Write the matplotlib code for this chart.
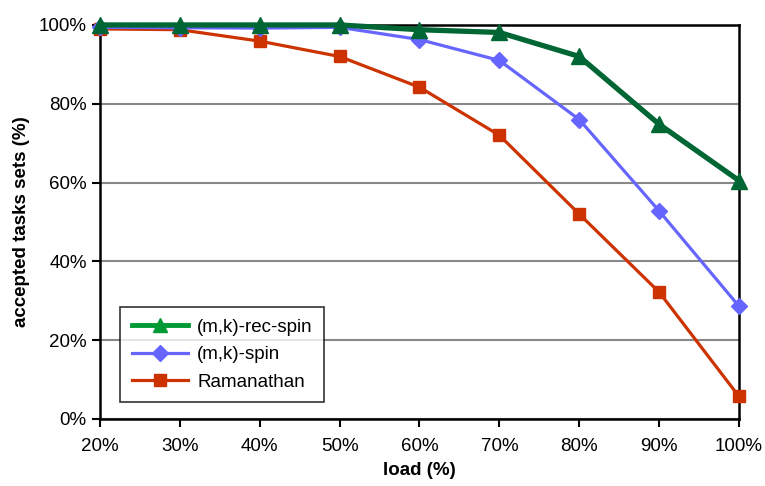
import matplotlib

matplotlib.use("Agg")
import matplotlib.pyplot as plt
from matplotlib.lines import Line2D
from matplotlib.ticker import PercentFormatter

load = [20, 30, 40, 50, 60, 70, 80, 90, 100]
rec_spin = [100, 100, 100, 100, 98.8, 98.1, 92.0, 74.8, 60.5]
spin = [99.4, 99.3, 99.2, 99.4, 96.3, 91.0, 76.0, 52.8, 28.6]
ramanathan = [99.0, 98.8, 95.9, 92.0, 84.2, 72.0, 52.0, 32.2, 5.7]

plt.rcParams["font.family"] = ["Liberation Sans", "DejaVu Sans"]

fig = plt.figure(figsize=(7.65, 4.86), dpi=100)
ax = fig.add_axes([0.1307, 0.138, 0.8353, 0.8106])

ax.plot(load, ramanathan, color="#cc3300", lw=2.3, marker="s", ms=9, zorder=3, clip_on=False)
ax.plot(load, spin, color="#6666ff", lw=2.3, marker="D", ms=8, zorder=4, clip_on=False)
ax.plot(load, rec_spin, color="#006633", lw=3.8, marker="^", ms=11, zorder=5, clip_on=False)

ax.set_xlim(20, 100)
ax.set_ylim(0, 100)
ax.set_xticks(load)
ax.set_yticks(range(0, 101, 20))
ax.xaxis.set_major_formatter(PercentFormatter(decimals=0))
ax.yaxis.set_major_formatter(PercentFormatter(decimals=0))
ax.yaxis.grid(True, color="#888888", lw=1.5)
ax.set_axisbelow(True)
ax.tick_params(direction="out", length=6, width=1.5, labelsize=13.5)
ax.tick_params(axis="x", pad=8)
for spine in ax.spines.values():
    spine.set_linewidth(1.8)

ax.set_xlabel("load (%)", fontsize=13.5, fontweight="bold", labelpad=5)
ax.set_ylabel("accepted tasks sets (%)", fontsize=13.5, fontweight="bold", labelpad=6)

handles = [
    Line2D([], [], color="#009933", lw=3.5, marker="^", ms=10),
    Line2D([], [], color="#6666ff", lw=2.3, marker="D", ms=8),
    Line2D([], [], color="#cc3300", lw=2.3, marker="s", ms=9),
]
leg = ax.legend(handles, ["(m,k)-rec-spin", "(m,k)-spin", "Ramanathan"],
                loc="lower left", bbox_to_anchor=(0.032, 0.043), fontsize=13.5,
                frameon=True, fancybox=False, edgecolor="black",
                handlelength=3.0, handletextpad=0.5, borderpad=0.6,
                labelspacing=0.55, borderaxespad=0)
leg.get_frame().set_linewidth(1.2)

fig.savefig("out.png", dpi=100)
